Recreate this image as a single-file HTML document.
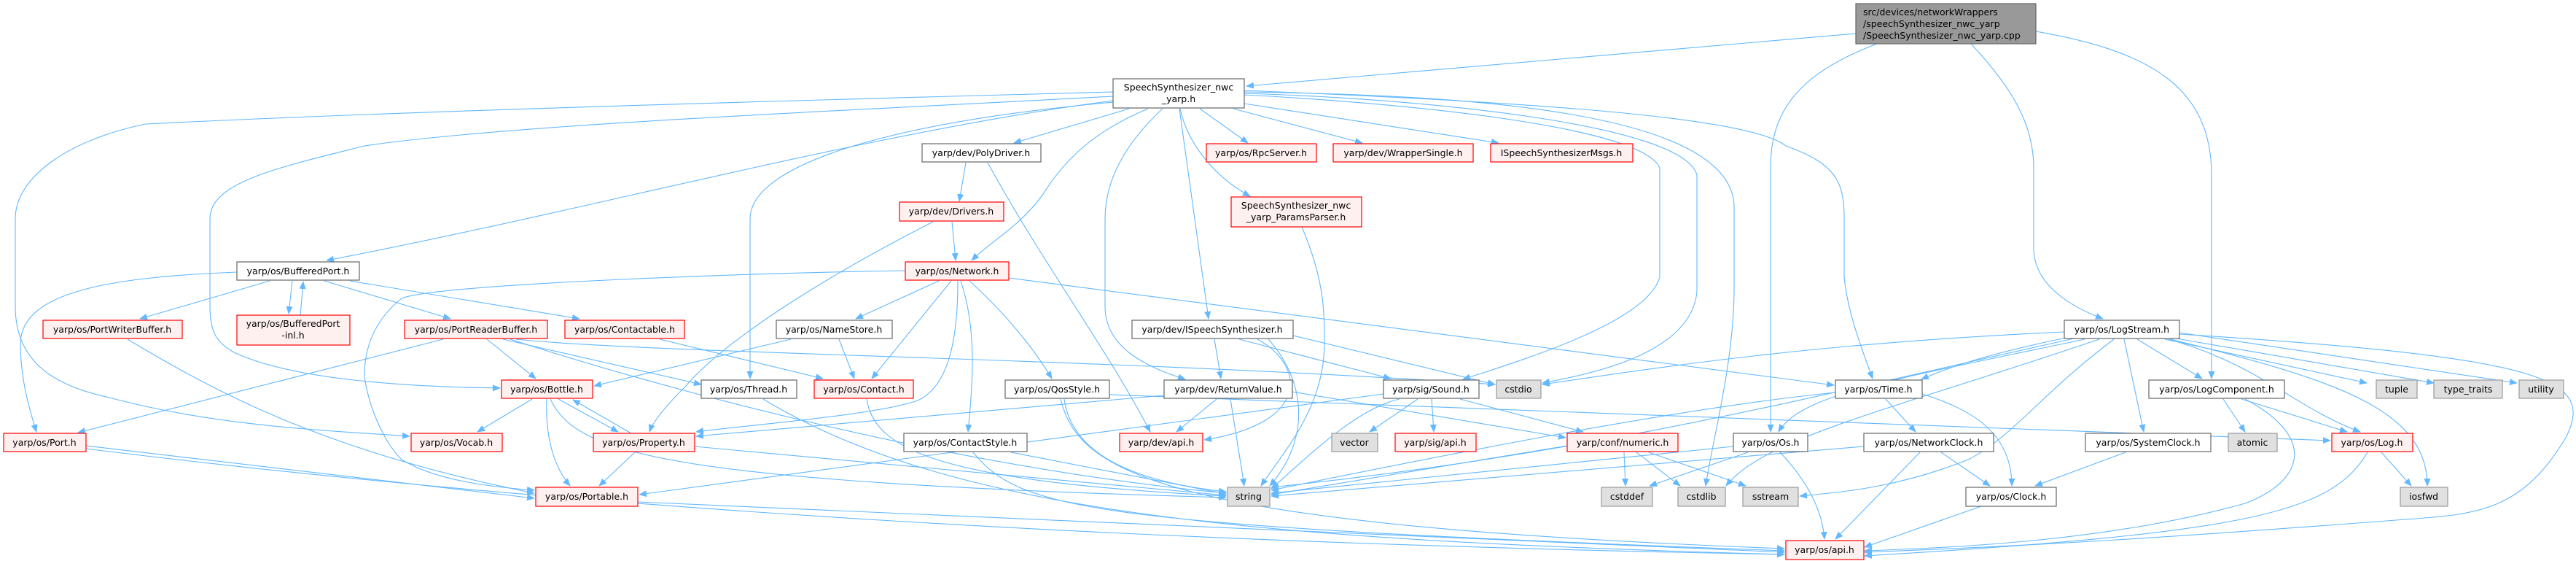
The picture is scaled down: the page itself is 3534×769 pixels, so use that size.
<!DOCTYPE html>
<html><head><meta charset="utf-8">
<style>
html,body{margin:0;padding:0;background:#fff;}
svg{display:block;}
text{font-family:"DejaVu Sans","Liberation Sans",sans-serif;font-size:12.5px;fill:#000;}
.e{fill:none;stroke:#63b8ff;stroke-width:1.1;marker-end:url(#a);}
.w{fill:#fff;stroke:#666;stroke-width:1.2;}
.r{fill:#fff0f0;stroke:#ff0000;stroke-width:1.2;}
.g{fill:#e0e0e0;stroke:#999;stroke-width:1.2;}
.m{fill:#999;stroke:#666;stroke-width:1.2;}
</style></head><body>
<svg width="3534" height="769" viewBox="0 0 3534 769" xmlns="http://www.w3.org/2000/svg">
<defs><marker id="a" markerWidth="11" markerHeight="9" refX="10" refY="4.5" orient="auto" markerUnits="userSpaceOnUse"><path d="M0,0 L11,4.5 L0,9 z" fill="#63b8ff"/></marker></defs>
<g>
<!-- main -->
<path class="e" d="M2546,46 L1710,118"/>
<path class="e" d="M2575,60 C2470,100 2429,150 2429,230 L2429,592"/>
<path class="e" d="M2704,60 C2760,120 2790,170 2790,230 L2790,340 C2790,390 2840,420 2885,437"/>
<path class="e" d="M2793,43 C2950,70 3034,120 3034,240 L3034,519"/>
<!-- SSnwc -->
<path class="e" d="M1527,126 C1200,135 600,150 200,170 C100,190 21,240 21,300 L21,420 C21,500 80,530 150,545 C300,585 450,590 562,598"/>
<path class="e" d="M1527,132 C1200,150 700,170 500,200 C380,230 288,250 288,300 L288,420 C288,460 300,470 321,483 C400,520 550,530 686,532"/>
<path class="e" d="M1527,138 C1200,180 800,290 448,357"/>
<path class="e" d="M1527,140 C1200,170 1029,230 1029,300 L1029,519"/>
<path class="e" d="M1549,149 L1391,196"/>
<path class="e" d="M1575,149 C1500,180 1460,220 1431,266 C1400,310 1360,330 1333,357"/>
<path class="e" d="M1595,149 C1540,200 1516,250 1516,300 L1516,420 C1516,480 1580,505 1626,520"/>
<path class="e" d="M1618,149 L1658,437"/>
<path class="e" d="M1619,149 C1630,200 1670,245 1715,269"/>
<path class="e" d="M1646,149 L1712,196"/>
<path class="e" d="M1692,149 L1869,196"/>
<path class="e" d="M1707,142 L2056,196"/>
<path class="e" d="M1707,130 C1900,140 2250,170 2277,230 L2277,380 C2260,440 2100,490 2007,520"/>
<path class="e" d="M1707,128 C1950,135 2310,170 2328,240 L2328,400 C2320,480 2200,510 2116,525"/>
<path class="e" d="M1707,126 C2000,130 2370,150 2379,280 L2379,400 C2378,500 2350,600 2340,666"/>
<path class="e" d="M1707,124 C2100,140 2400,160 2450,200 C2520,225 2530,250 2530,300 L2530,380 C2535,430 2555,480 2569,519"/>
<!-- PolyDriver/Drivers/Params -->
<path class="e" d="M1325,223 L1316,276"/>
<path class="e" d="M1355,223 C1430,360 1520,480 1578,592"/>
<path class="e" d="M1306,304 L1311,357"/>
<path class="e" d="M1280,304 C1150,370 1000,460 940,530 C910,560 895,580 891,592"/>
<path class="e" d="M1786,311 C1815,380 1817,420 1817,470 C1817,560 1760,620 1730,666"/>
<!-- Network -->
<path class="e" d="M1288,385 L1174,437"/>
<path class="e" d="M1305,385 L1196,519"/>
<path class="e" d="M1314,385 C1314,470 1300,530 1259,549 C1200,570 1000,585 955,592"/>
<path class="e" d="M1318,385 C1340,450 1335,520 1328,592"/>
<path class="e" d="M1330,385 C1380,430 1420,480 1443,519"/>
<path class="e" d="M1384,381 L2516,528"/>
<path class="e" d="M1242,371 C1000,375 600,390 551,409 C500,450 500,500 500,517 C510,580 540,620 551,630 C600,660 680,668 733,672"/>
<!-- NameStore / Contactable -->
<path class="e" d="M1151,465 L1172,519"/>
<path class="e" d="M1085,465 L815,529"/>
<path class="e" d="M905,465 L1129,519"/>
<!-- BufferedPort -->
<path class="e" d="M325,373 C150,380 30,400 28,470 C28,520 40,560 50,592"/>
<path class="e" d="M370,385 L192,437"/>
<path class="e" d="M401,385 L396,430"/>
<path class="e" d="M412,432 L416,386"/>
<path class="e" d="M445,385 L618,437"/>
<path class="e" d="M480,385 L795,437"/>
<!-- PortWriter / PortReader -->
<path class="e" d="M175,465 C300,540 450,620 733,676"/>
<path class="e" d="M608,465 L107,593"/>
<path class="e" d="M668,465 L735,519"/>
<path class="e" d="M690,465 L962,527"/>
<path class="e" d="M708,465 C900,485 1500,490 2051,527"/>
<path class="e" d="M700,465 C900,530 1300,640 1682,676"/>
<!-- Bottle / Property -->
<path class="e" d="M730,547 L655,592"/>
<path class="e" d="M750,547 C748,600 760,640 782,666"/>
<path class="e" d="M766,547 L848,592"/>
<path class="e" d="M866,594 L786,548"/>
<path class="e" d="M755,547 C790,620 900,660 1682,682"/>
<path class="e" d="M871,620 L822,666"/>
<path class="e" d="M953,612 L1682,679"/>
<!-- Port / Portable -->
<path class="e" d="M118,611 L733,683"/>
<path class="e" d="M118,615 C800,700 1600,745 2448,760"/>
<path class="e" d="M875,688 L2448,757"/>
<!-- Thread / Contact / ContactStyle / QosStyle -->
<path class="e" d="M1047,547 C1300,700 1700,740 2448,760"/>
<path class="e" d="M1189,547 C1200,620 1300,660 1682,680"/>
<path class="e" d="M1387,620 L1682,677"/>
<path class="e" d="M1335,620 C1400,700 1500,720 2448,755"/>
<path class="e" d="M1460,547 C1470,620 1550,660 1682,674"/>
<path class="e" d="M1455,547 C1480,650 1600,720 2448,752"/>
<path class="e" d="M1522,541 L3197,604"/>
<!-- ReturnValue / ISpeech -->
<path class="e" d="M1669,547 L1614,592"/>
<path class="e" d="M1688,547 L1707,666"/>
<path class="e" d="M1597,542 L955,598"/>
<path class="e" d="M1773,537 L2148,600"/>
<path class="e" d="M1666,465 L1675,519"/>
<path class="e" d="M1700,465 L1908,519"/>
<path class="e" d="M1725,465 C1790,500 1800,580 1652,603"/>
<path class="e" d="M1740,465 C1790,520 1800,600 1742,666"/>
<path class="e" d="M1774,460 L2051,527"/>
<!-- Sound -->
<path class="e" d="M1945,547 L1879,592"/>
<path class="e" d="M1964,547 L1967,592"/>
<path class="e" d="M2003,547 L2172,592"/>
<path class="e" d="M1920,547 C1860,560 1790,630 1744,670"/>
<path class="e" d="M1898,540 L877,678"/>
<!-- numeric / Os -->
<path class="e" d="M2228,620 L2230,666"/>
<path class="e" d="M2245,620 L2305,666"/>
<path class="e" d="M2262,620 L2395,666"/>
<path class="e" d="M2150,611 L1744,678"/>
<path class="e" d="M2398,620 L2263,666"/>
<path class="e" d="M2442,620 C2480,660 2500,700 2503,739"/>
<path class="e" d="M2378,612 L1744,676"/>
<!-- Time / clocks -->
<path class="e" d="M2587,547 L2628,592"/>
<path class="e" d="M2637,540 C2700,560 2760,590 2760,666"/>
<path class="e" d="M2518,538 C2300,560 2000,620 1744,672"/>
<path class="e" d="M2663,620 L2730,666"/>
<path class="e" d="M2634,620 L2518,739"/>
<path class="e" d="M2557,612 L1744,680"/>
<path class="e" d="M2916,620 L2792,666"/>
<path class="e" d="M2718,694 L2558,750"/>
<!-- LogStream -->
<path class="e" d="M2832,455 C2500,470 2300,500 2116,527"/>
<path class="e" d="M2840,462 C2750,480 2680,500 2636,520"/>
<path class="e" d="M2860,465 C2600,520 2470,540 2440,592"/>
<path class="e" d="M2914,465 L2941,592"/>
<path class="e" d="M2932,465 L3021,519"/>
<path class="e" d="M2970,465 L3247,525"/>
<path class="e" d="M2980,463 L3339,525"/>
<path class="e" d="M2990,456 L3453,525"/>
<path class="e" d="M2975,465 C3100,500 3150,560 3238,592"/>
<path class="e" d="M2978,465 C3200,520 3330,560 3330,666"/>
<path class="e" d="M2990,458 C3500,490 3560,520 3520,600 C3460,700 3400,705 3300,712 C3000,735 2800,748 2558,757"/>
<path class="e" d="M2900,465 C2800,540 2760,600 2700,630 C2600,670 2520,675 2469,680"/>
<path class="e" d="M2880,465 C2600,560 2420,600 2368,666"/>
<path class="e" d="M2850,463 C2500,540 2200,620 1744,668"/>
<!-- LogComponent / Log -->
<path class="e" d="M3050,547 L3080,592"/>
<path class="e" d="M3075,547 L3220,592"/>
<path class="e" d="M3080,547 C3180,600 3160,660 3080,690 C2900,740 2700,750 2558,755"/>
<path class="e" d="M3267,620 L3308,666"/>
<path class="e" d="M3248,620 C3200,700 3100,730 2558,762"/>
</g>
<g>
<rect class="m" x="2546" y="5" width="247" height="55"/>
<text x="2556" y="21">src/devices/networkWrappers</text>
<text x="2556" y="37">/speechSynthesizer_nwc_yarp</text>
<text x="2556" y="53">/SpeechSynthesizer_nwc_yarp.cpp</text>

<rect class="w" x="1527" y="108" width="180" height="40"/>
<text x="1617" y="124" text-anchor="middle">SpeechSynthesizer_nwc</text>
<text x="1617" y="140" text-anchor="middle">_yarp.h</text>

<rect class="w" x="1265" y="197" width="163" height="25"/><text x="1346" y="214" text-anchor="middle">yarp/dev/PolyDriver.h</text>
<rect class="r" x="1655" y="197" width="151" height="25"/><text x="1730" y="214" text-anchor="middle">yarp/os/RpcServer.h</text>
<rect class="r" x="1829" y="197" width="192" height="25"/><text x="1925" y="214" text-anchor="middle">yarp/dev/WrapperSingle.h</text>
<rect class="r" x="2045" y="197" width="195" height="25"/><text x="2142" y="214" text-anchor="middle">ISpeechSynthesizerMsgs.h</text>

<rect class="r" x="1234" y="277" width="143" height="26"/><text x="1305" y="294" text-anchor="middle">yarp/dev/Drivers.h</text>
<rect class="r" x="1689" y="270" width="179" height="41"/>
<text x="1778" y="286" text-anchor="middle">SpeechSynthesizer_nwc</text>
<text x="1778" y="302" text-anchor="middle">_yarp_ParamsParser.h</text>

<rect class="w" x="325" y="359" width="168" height="25"/><text x="409" y="376" text-anchor="middle">yarp/os/BufferedPort.h</text>
<rect class="r" x="1242" y="359" width="142" height="25"/><text x="1313" y="376" text-anchor="middle">yarp/os/Network.h</text>

<rect class="r" x="59" y="439" width="191" height="25"/><text x="154" y="456" text-anchor="middle">yarp/os/PortWriterBuffer.h</text>
<rect class="r" x="325" y="432" width="155" height="41"/>
<text x="402" y="448" text-anchor="middle">yarp/os/BufferedPort</text>
<text x="402" y="464" text-anchor="middle">-inl.h</text>
<rect class="r" x="555" y="439" width="196" height="25"/><text x="653" y="456" text-anchor="middle">yarp/os/PortReaderBuffer.h</text>
<rect class="r" x="775" y="439" width="164" height="25"/><text x="857" y="456" text-anchor="middle">yarp/os/Contactable.h</text>
<rect class="w" x="1065" y="439" width="159" height="25"/><text x="1144" y="456" text-anchor="middle">yarp/os/NameStore.h</text>
<rect class="w" x="1553" y="439" width="221" height="25"/><text x="1663" y="456" text-anchor="middle">yarp/dev/ISpeechSynthesizer.h</text>
<rect class="w" x="2832" y="439" width="158" height="25"/><text x="2911" y="456" text-anchor="middle">yarp/os/LogStream.h</text>

<rect class="r" x="688" y="521" width="125" height="25"/><text x="750" y="538" text-anchor="middle">yarp/os/Bottle.h</text>
<rect class="w" x="962" y="521" width="131" height="25"/><text x="1027" y="538" text-anchor="middle">yarp/os/Thread.h</text>
<rect class="r" x="1117" y="521" width="136" height="25"/><text x="1185" y="538" text-anchor="middle">yarp/os/Contact.h</text>
<rect class="w" x="1379" y="521" width="143" height="25"/><text x="1450" y="538" text-anchor="middle">yarp/os/QosStyle.h</text>
<rect class="w" x="1597" y="521" width="176" height="25"/><text x="1685" y="538" text-anchor="middle">yarp/dev/ReturnValue.h</text>
<rect class="w" x="1898" y="521" width="131" height="25"/><text x="1963" y="538" text-anchor="middle">yarp/sig/Sound.h</text>
<rect class="g" x="2053" y="521" width="61" height="25"/><text x="2083" y="538" text-anchor="middle">cstdio</text>
<rect class="w" x="2518" y="521" width="119" height="25"/><text x="2577" y="538" text-anchor="middle">yarp/os/Time.h</text>
<rect class="w" x="2948" y="521" width="186" height="25"/><text x="3041" y="538" text-anchor="middle">yarp/os/LogComponent.h</text>
<rect class="g" x="3260" y="521" width="56" height="25"/><text x="3288" y="538" text-anchor="middle">tuple</text>
<rect class="g" x="3339" y="521" width="94" height="25"/><text x="3386" y="538" text-anchor="middle">type_traits</text>
<rect class="g" x="3456" y="521" width="61" height="25"/><text x="3486" y="538" text-anchor="middle">utility</text>

<rect class="r" x="5" y="594" width="113" height="25"/><text x="61" y="611" text-anchor="middle">yarp/os/Port.h</text>
<rect class="r" x="564" y="594" width="125" height="25"/><text x="626" y="611" text-anchor="middle">yarp/os/Vocab.h</text>
<rect class="r" x="814" y="594" width="139" height="25"/><text x="883" y="611" text-anchor="middle">yarp/os/Property.h</text>
<rect class="w" x="1240" y="594" width="169" height="25"/><text x="1324" y="611" text-anchor="middle">yarp/os/ContactStyle.h</text>
<rect class="r" x="1536" y="594" width="114" height="25"/><text x="1593" y="611" text-anchor="middle">yarp/dev/api.h</text>
<rect class="g" x="1827" y="594" width="63" height="25"/><text x="1858" y="611" text-anchor="middle">vector</text>
<rect class="r" x="1914" y="594" width="111" height="25"/><text x="1969" y="611" text-anchor="middle">yarp/sig/api.h</text>
<rect class="r" x="2150" y="594" width="152" height="25"/><text x="2226" y="611" text-anchor="middle">yarp/conf/numeric.h</text>
<rect class="w" x="2378" y="594" width="102" height="25"/><text x="2429" y="611" text-anchor="middle">yarp/os/Os.h</text>
<rect class="w" x="2557" y="594" width="178" height="25"/><text x="2646" y="611" text-anchor="middle">yarp/os/NetworkClock.h</text>
<rect class="w" x="2861" y="594" width="172" height="25"/><text x="2947" y="611" text-anchor="middle">yarp/os/SystemClock.h</text>
<rect class="g" x="3057" y="594" width="67" height="25"/><text x="3090" y="611" text-anchor="middle">atomic</text>
<rect class="r" x="3199" y="594" width="111" height="25"/><text x="3254" y="611" text-anchor="middle">yarp/os/Log.h</text>

<rect class="r" x="735" y="668" width="140" height="26"/><text x="805" y="685" text-anchor="middle">yarp/os/Portable.h</text>
<rect class="g" x="1684" y="668" width="58" height="26"/><text x="1713" y="685" text-anchor="middle">string</text>
<rect class="g" x="2197" y="668" width="70" height="26"/><text x="2232" y="685" text-anchor="middle">cstddef</text>
<rect class="g" x="2302" y="668" width="65" height="26"/><text x="2334" y="685" text-anchor="middle">cstdlib</text>
<rect class="g" x="2391" y="668" width="76" height="26"/><text x="2429" y="685" text-anchor="middle">sstream</text>
<rect class="w" x="2697" y="668" width="124" height="26"/><text x="2759" y="685" text-anchor="middle">yarp/os/Clock.h</text>
<rect class="g" x="3293" y="668" width="65" height="26"/><text x="3325" y="685" text-anchor="middle">iosfwd</text>

<rect class="r" x="2450" y="741" width="107" height="26"/><text x="2503" y="758" text-anchor="middle">yarp/os/api.h</text>
</g>
</svg>
</body></html>
